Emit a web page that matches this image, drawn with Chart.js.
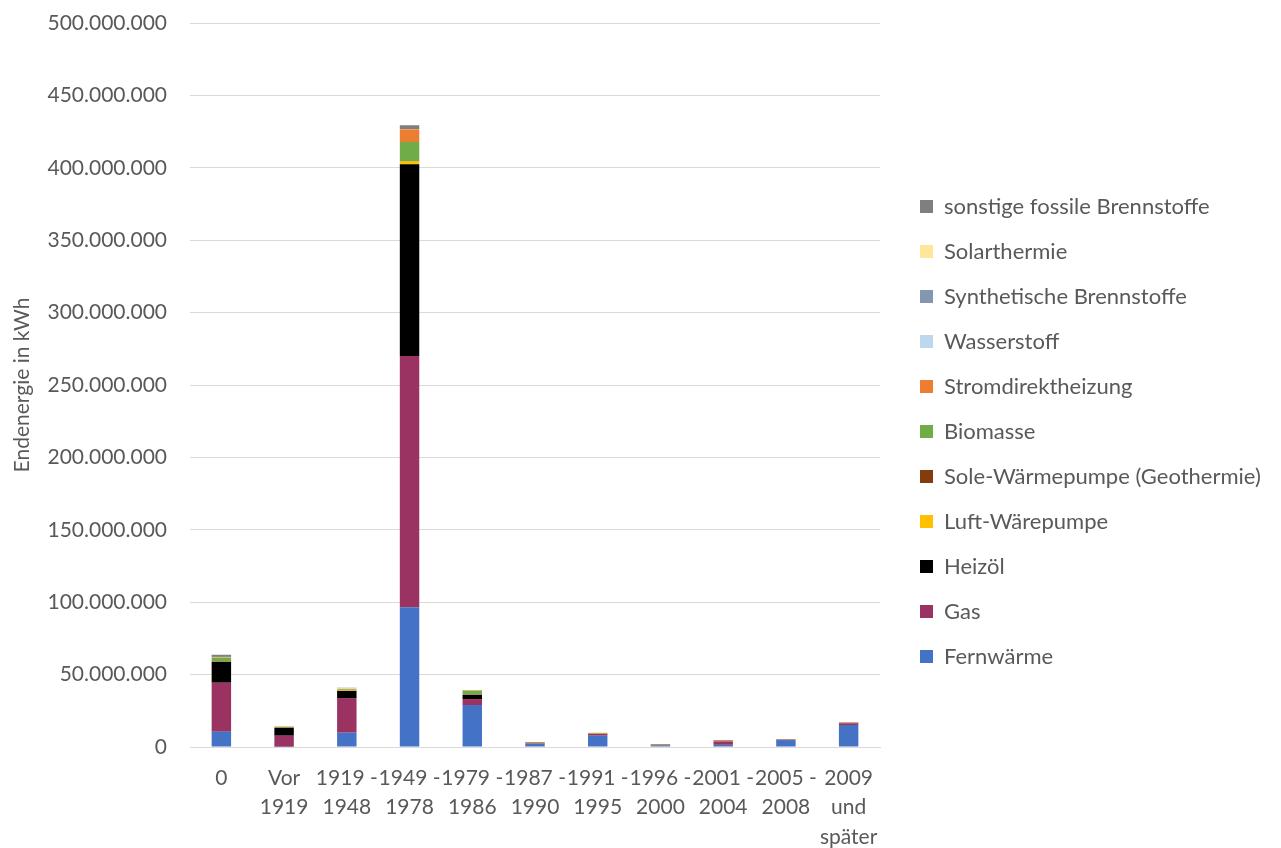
<!DOCTYPE html>
<html lang="de">
<head>
<meta charset="utf-8">
<title>Endenergie nach Baualtersklasse</title>
<script src="https://cdn.jsdelivr.net/npm/chart.js@4/dist/chart.umd.min.js"></script>
<style>
  html, body { margin: 0; padding: 0; background: #ffffff; }
  #wrap { width: 1281px; height: 848px; }
</style>
</head>
<body>
<div id="wrap"><canvas id="chart" width="1281" height="848"></canvas></div>
<script>
// Baualtersklassen (x-axis categories, wrapped into lines)
const categories = [
  ["0"],
  ["Vor", "1919"],
  ["1919 -", "1948"],
  ["1949 -", "1978"],
  ["1979 -", "1986"],
  ["1987 -", "1990"],
  ["1991 -", "1995"],
  ["1996 -", "2000"],
  ["2001 -", "2004"],
  ["2005 -", "2008"],
  ["2009", "und", "später"]
];

// Endenergie je Energieträger, in Mio. kWh
const fernwaerme     = [10.6, 0.2,  9.9,  96.5, 29.0, 2.3,  7.8, 1.2, 1.5, 4.8, 15.2];
const gas            = [33.8, 7.6, 23.9, 173.5,  4.1, 0.3,  1.2, 0.2, 2.4, 0.2,  1.2];
const heizoel        = [14.5, 5.5,  4.9, 132.4,  3.0, 0.1,  0.0, 0.0, 0.0, 0.0,  0.0];
const luftWp         = [ 0.3, 0.2,  0.3,   2.0,  0.2, 0.2,  0.1, 0.1, 0.2, 0.0,  0.2];
const soleWp         = [ 0.2, 0.1,  0.2,   0.3,  0.1, 0.4,  0.1, 0.4, 0.4, 0.3,  0.3];
const biomasse       = [ 2.3, 0.3,  0.6,  13.1,  2.5, 0.1,  0.5, 0.1, 0.1, 0.0,  0.0];
const stromdirekt    = [ 0.3, 0.1,  0.4,   8.8,  0.3, 0.05, 0.1, 0.0, 0.0, 0.0,  0.0];
const wasserstoff    = [ 0.0, 0.0,  0.0,   0.0,  0.0, 0.0,  0.0, 0.0, 0.0, 0.0,  0.0];
const synthetisch    = [ 0.0, 0.0,  0.0,   0.0,  0.0, 0.0,  0.0, 0.0, 0.0, 0.0,  0.0];
const solarthermie   = [ 0.2, 0.2,  0.5,   0.2,  0.2, 0.05, 0.1, 0.1, 0.2, 0.2,  0.2];
const sonstigeFossil = [ 1.5, 0.2,  0.2,   2.6,  0.0, 0.0,  0.0, 0.0, 0.0, 0.0,  0.0];

// y-axis ticks (kWh)
const yMin = 0;
const yMax = 500000000;
const yStep = 50000000;

const MIO = 1000000;
const toKWh = arr => arr.map(v => v * MIO);

const series = [
  { label: "Fernwärme", values: fernwaerme, color: "#4472C4" },
  { label: "Gas", values: gas, color: "#9A3262" },
  { label: "Heizöl", values: heizoel, color: "#000000" },
  { label: "Luft-Wärepumpe", values: luftWp, color: "#FFC000" },
  { label: "Sole-Wärmepumpe (Geothermie)", values: soleWp, color: "#843C0C" },
  { label: "Biomasse", values: biomasse, color: "#70AD47" },
  { label: "Stromdirektheizung", values: stromdirekt, color: "#ED7D31" },
  { label: "Wasserstoff", values: wasserstoff, color: "#BDD7EE" },
  { label: "Synthetische Brennstoffe", values: synthetisch, color: "#8497B0" },
  { label: "Solarthermie", values: solarthermie, color: "#FFE699" },
  { label: "sonstige fossile Brennstoffe", values: sonstigeFossil, color: "#7F7F7F" }
];

const FONT = "Lato";
const TEXT = "#595959";
const GRID = "#D9D9D9";

function formatDe(v) {
  return String(Math.round(v)).replace(/\B(?=(\d{3})+(?!\d))/g, ".");
}

// Legend sits in a fixed-width column to the right of the plot
const LEGEND_WIDTH = 401;
const legendPlacement = {
  id: "legendPlacement",
  beforeLayout(chart) {
    const lg = chart.legend;
    if (lg && !lg._fixedWidth) {
      const fit = lg.fit.bind(lg);
      lg.fit = function () { fit(); this.width = LEGEND_WIDTH; };
      lg._fixedWidth = true;
    }
  },
  afterLayout(chart) {
    const lg = chart.legend;
    if (!lg) return;
    lg.left += 17; lg.right += 17;
    lg.top -= 4; lg.bottom -= 4;
  }
};

new Chart(document.getElementById("chart"), {
  type: "bar",
  data: {
    labels: categories,
    datasets: series.map(s => ({
      label: s.label,
      data: toKWh(s.values),
      backgroundColor: s.color,
      borderWidth: 0,
      categoryPercentage: 1.0,
      barPercentage: 0.31
    }))
  },
  options: {
    responsive: false,
    animation: false,
    layout: { padding: { top: 23, left: 0, right: 0, bottom: 0 } },
    plugins: {
      tooltip: { enabled: false },
      legend: {
        position: "right",
        reverse: true,
        labels: {
          color: TEXT,
          font: { family: FONT, size: 22 },
          boxWidth: 13,
          boxHeight: 13,
          padding: 23
        }
      }
    },
    scales: {
      x: {
        stacked: true,
        grid: { display: false, drawTicks: false },
        border: { display: true, color: GRID, width: 1 },
        ticks: {
          color: TEXT,
          font: { family: FONT, size: 21, lineHeight: 1.42 },
          maxRotation: 0,
          autoSkip: false,
          padding: 16
        },
        afterFit(scale) { scale.height = 101; }
      },
      y: {
        stacked: true,
        min: yMin,
        max: yMax,
        grid: { color: GRID, lineWidth: 1, drawTicks: false },
        border: { display: false },
        ticks: {
          stepSize: yStep,
          color: TEXT,
          font: { family: FONT, size: 21 },
          padding: 23,
          callback: v => formatDe(v)
        },
        title: {
          display: true,
          text: "Endenergie in kWh",
          color: TEXT,
          font: { family: FONT, size: 21 },
          padding: { top: 10, bottom: 0 }
        },
        afterFit(scale) {
          scale.width = 190;
          scale.paddingTop = 0;
          scale.paddingBottom = 0;
        }
      }
    }
  },
  plugins: [legendPlacement]
});
</script>
</body>
</html>
